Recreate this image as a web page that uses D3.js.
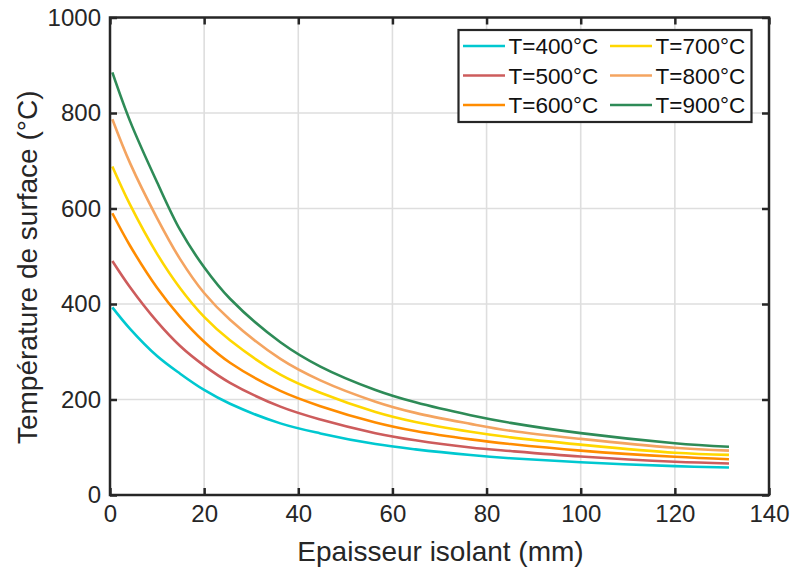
<!DOCTYPE html>
<html>
<head>
<meta charset="utf-8">
<script src="https://cdn.jsdelivr.net/npm/d3@7"></script>
<style>
  body { margin: 0; background: #fff; }
  svg { display: block; font-family: "Liberation Sans", Arial, Helvetica, sans-serif; }
</style>
</head>
<body>
<svg id="chart" width="792" height="574"></svg>
<script>
// ---- Data ----
const thickness = [0.5, 4.26, 10, 14.9, 20, 25.5, 36.2, 44.7, 56.4, 64.9, 76.6, 85.1, 100, 120, 131.5];
const seriesNames = ["T=400°C", "T=500°C", "T=600°C", "T=700°C", "T=800°C", "T=900°C"];
const seriesColors = ["#00c8d0", "#cd5c5c", "#ff8c00", "#ffd700", "#f4a460", "#2e8b57"];
const t400 = [393, 348, 291, 254, 220, 191, 150, 129, 106.7, 95.6, 83.7, 77, 68.5, 60.5, 57.5];
const t500 = [490, 435, 363, 312, 271, 235, 185, 158, 129.5, 114.5, 99.5, 92, 80.5, 69.5, 66];
const t600 = [590, 522, 434, 373, 321, 277, 218, 186, 152, 134, 116.5, 106.7, 93, 80, 75];
const t700 = [688, 608, 505, 433, 373, 324, 252, 214, 174, 153, 132.5, 120.7, 105.5, 88.5, 84];
const t800 = [787, 695, 580, 494, 423, 367, 285, 240, 195.5, 172, 149, 134.5, 117.5, 99, 93];
const t900 = [885, 783, 655, 555, 477, 411, 320, 269, 220, 194, 167, 151, 129.5, 108.5, 101];
const seriesValues = [t400, t500, t600, t700, t800, t900];
const xTicks = [0, 20, 40, 60, 80, 100, 120, 140];
const yTicks = [0, 200, 400, 600, 800, 1000];

// ---- Layout ----
const svg = d3.select("#chart");
const pL = 110, pR = 769, pT = 17.5, pB = 495;
const x = d3.scaleLinear().domain([0, 140]).range([pL, pR]);
const y = d3.scaleLinear().domain([0, 1000]).range([pB, pT]);
const axisColor = "#262626";
const tickLen = 7;

// grid
const grid = svg.append("g");
grid.selectAll("line.gx").data(xTicks.slice(1, -1)).join("line")
  .attr("x1", d => x(d)).attr("x2", d => x(d))
  .attr("y1", pT).attr("y2", pB)
  .attr("stroke", "#dedede").attr("stroke-width", 1.6);
grid.selectAll("line.gy").data(yTicks.slice(1, -1)).join("line")
  .attr("x1", pL).attr("x2", pR)
  .attr("y1", d => y(d)).attr("y2", d => y(d))
  .attr("stroke", "#dedede").attr("stroke-width", 1.6);

// lines
const line = d3.line().x(d => x(d[0])).y(d => y(d[1])).curve(d3.curveCatmullRom.alpha(0.5));
seriesValues.forEach((vals, i) => {
  svg.append("path")
    .datum(thickness.map((t, j) => [t, vals[j]]))
    .attr("fill", "none")
    .attr("stroke", seriesColors[i])
    .attr("stroke-width", 2.6)
    .attr("d", line);
});

// axes
function styleAxis(g) {
  g.select(".domain").remove();
  g.selectAll(".tick line").attr("stroke", axisColor).attr("stroke-width", 2.5);
  g.selectAll(".tick text").attr("fill", axisColor).attr("font-size", 24)
    .attr("font-family", "Liberation Sans, Arial, sans-serif");
}
svg.append("g").attr("transform", `translate(0,${pB})`)
  .call(d3.axisBottom(x).tickValues(xTicks).tickSize(-tickLen).tickPadding(10).tickFormat(d3.format("d")))
  .call(styleAxis);
svg.append("g").attr("transform", `translate(0,${pT})`)
  .call(d3.axisTop(x).tickValues(xTicks).tickSize(-tickLen).tickFormat(""))
  .call(styleAxis);
svg.append("g").attr("transform", `translate(${pL},0)`)
  .call(d3.axisLeft(y).tickValues(yTicks).tickSize(-tickLen).tickPadding(9).tickFormat(d3.format("d")))
  .call(styleAxis);
svg.append("g").attr("transform", `translate(${pR},0)`)
  .call(d3.axisRight(y).tickValues(yTicks).tickSize(-tickLen).tickFormat(""))
  .call(styleAxis);

// box
svg.append("rect")
  .attr("x", pL).attr("y", pT)
  .attr("width", pR - pL).attr("height", pB - pT)
  .attr("fill", "none").attr("stroke", axisColor).attr("stroke-width", 2.5);

// axis labels
svg.append("text")
  .attr("x", (pL + pR) / 2 + 1).attr("y", 561)
  .attr("text-anchor", "middle").attr("font-size", 28).attr("fill", axisColor)
  .text("Epaisseur isolant (mm)");
svg.append("text")
  .attr("transform", `translate(37,${(pT + pB) / 2 + 11}) rotate(-90)`)
  .attr("text-anchor", "middle").attr("font-size", 28).attr("fill", axisColor)
  .text("Température de surface (°C)");

// legend
const lg = svg.append("g");
lg.append("rect")
  .attr("x", 458.5).attr("y", 30).attr("width", 293).attr("height", 92)
  .attr("fill", "#fff").attr("stroke", axisColor).attr("stroke-width", 2.2);
const colX = [463, 610];
const rowY = [46, 75.5, 105];
seriesNames.forEach((name, i) => {
  const c = Math.floor(i / 3), r = i % 3;
  lg.append("line")
    .attr("x1", colX[c]).attr("x2", colX[c] + 42)
    .attr("y1", rowY[r]).attr("y2", rowY[r])
    .attr("stroke", seriesColors[i]).attr("stroke-width", 2.6);
  lg.append("text")
    .attr("x", colX[c] + 45.5).attr("y", rowY[r]).attr("dy", "0.36em")
    .attr("font-size", 22.5).attr("fill", "#111")
    .text(name);
});
</script>
</body>
</html>
